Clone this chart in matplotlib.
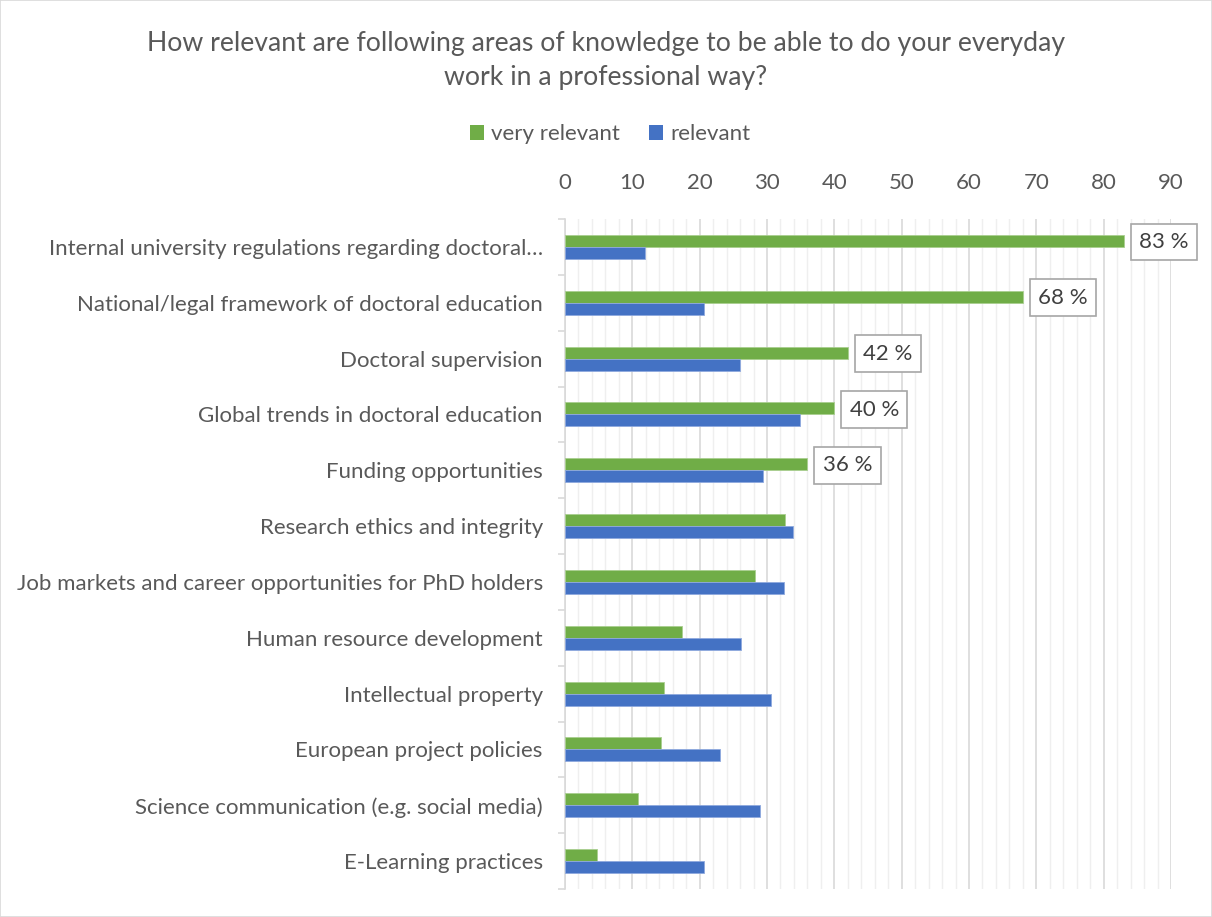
import matplotlib
matplotlib.use("Agg")
import matplotlib.pyplot as plt
import numpy as np
from matplotlib.patches import Rectangle, Patch
from matplotlib.ticker import MultipleLocator

plt.rcParams['font.family'] = ['Lato', 'DejaVu Sans']

categories = [
    "Internal university regulations regarding doctoral\u2026",
    "National/legal framework of doctoral education",
    "Doctoral supervision",
    "Global trends in doctoral education",
    "Funding opportunities",
    "Research ethics and integrity",
    "Job markets and career opportunities for PhD holders",
    "Human resource development",
    "Intellectual property",
    "European project policies",
    "Science communication (e.g. social media)",
    "E-Learning practices",
]
very_relevant = [83, 68, 42, 40, 36, 32.7, 28.2, 17.4, 14.7, 14.3, 10.8, 4.8]
relevant = [11.9, 20.6, 26.0, 34.9, 29.4, 33.8, 32.5, 26.1, 30.6, 23.0, 28.9, 20.6]
labelled_count = 5
x_ticks = [0, 10, 20, 30, 40, 50, 60, 70, 80, 90]

GREEN = "#70AD47"
BLUE = "#4472C4"
TEXT = "#595959"
GRID_MAJOR = "#D9D9D9"
GRID_MINOR = "#EFEFEF"
FS = 16

W, H = 1212, 917
fig = plt.figure(figsize=(W / 100, H / 100), dpi=100)
fig.patch.set_facecolor("white")
fig.patches.append(Rectangle((0, 0), 1, 1, transform=fig.transFigure,
                             fill=False, edgecolor="#D9D9D9", linewidth=1.2))

ax = fig.add_axes([565 / W, 1 - 889 / H, (1171 - 565) / W, (889 - 219) / H])

y = np.arange(len(categories))
h = 0.215
ax.barh(y - h / 2, very_relevant, height=h, color=GREEN, edgecolor="#A9CF8F",
        linewidth=0.6, label="very relevant", zorder=3)
ax.barh(y + h / 2, relevant, height=h, color=BLUE, edgecolor="#8FA9DE",
        linewidth=0.6, label="relevant", zorder=3)

ax.set_xlim(0, 90)
ax.set_ylim(len(categories) - 0.5, -0.5)

# x axis on top, gridlines every 2 with stronger lines every 10
ax.xaxis.tick_top()
ax.set_xticks(x_ticks)
ax.xaxis.set_minor_locator(MultipleLocator(2))
ax.grid(which="major", axis="x", color=GRID_MAJOR, linewidth=1.2, zorder=0)
ax.grid(which="minor", axis="x", color=GRID_MINOR, linewidth=1.0, zorder=0)
ax.tick_params(axis="x", which="both", length=0, pad=19, labelsize=FS,
               labelcolor=TEXT)

ax.set_yticks(y)
ax.set_yticklabels(categories)
ax.set_yticks(np.arange(len(categories) + 1) - 0.5, minor=True)
ax.tick_params(axis="y", which="major", length=0, pad=16, labelsize=FS,
               labelcolor=TEXT)
ax.tick_params(axis="y", which="minor", length=5, width=1.2, color=GRID_MAJOR)

for side in ("top", "right", "bottom"):
    ax.spines[side].set_visible(False)
ax.spines["left"].set_color(GRID_MAJOR)
ax.spines["left"].set_linewidth(1.2)
ax.set_axisbelow(True)

# value boxes for the leading items
for i in range(labelled_count):
    v = very_relevant[i]
    ax.annotate(f"{v:.0f} %", xy=(v, y[i] - h / 2 + 0.02), xytext=(11, 0),
                textcoords="offset points", ha="left", va="center",
                fontsize=FS, color="#404040", zorder=5,
                bbox=dict(boxstyle="square,pad=0.38", facecolor="white",
                          edgecolor="#A6A6A6", linewidth=1.2))

fig.text(606 / W, 1 - 44 / H,
         "How relevant are following areas of knowledge to be able to do your everyday",
         ha="center", va="center", fontsize=19.2, color=TEXT)
fig.text(606 / W, 1 - 78 / H, "work in a professional way?",
         ha="center", va="center", fontsize=19.2, color=TEXT)

handles = [Patch(facecolor=GREEN, edgecolor="none"),
           Patch(facecolor=BLUE, edgecolor="none")]
fig.legend(handles, ["very relevant", "relevant"], loc="center",
           bbox_to_anchor=(610 / W, 1 - 134 / H), ncol=2, frameon=False,
           fontsize=FS, labelcolor=TEXT, handlelength=0.65, handleheight=0.65,
           handletextpad=0.3, columnspacing=1.3)

fig.savefig("out.png", dpi=100, facecolor="white")
